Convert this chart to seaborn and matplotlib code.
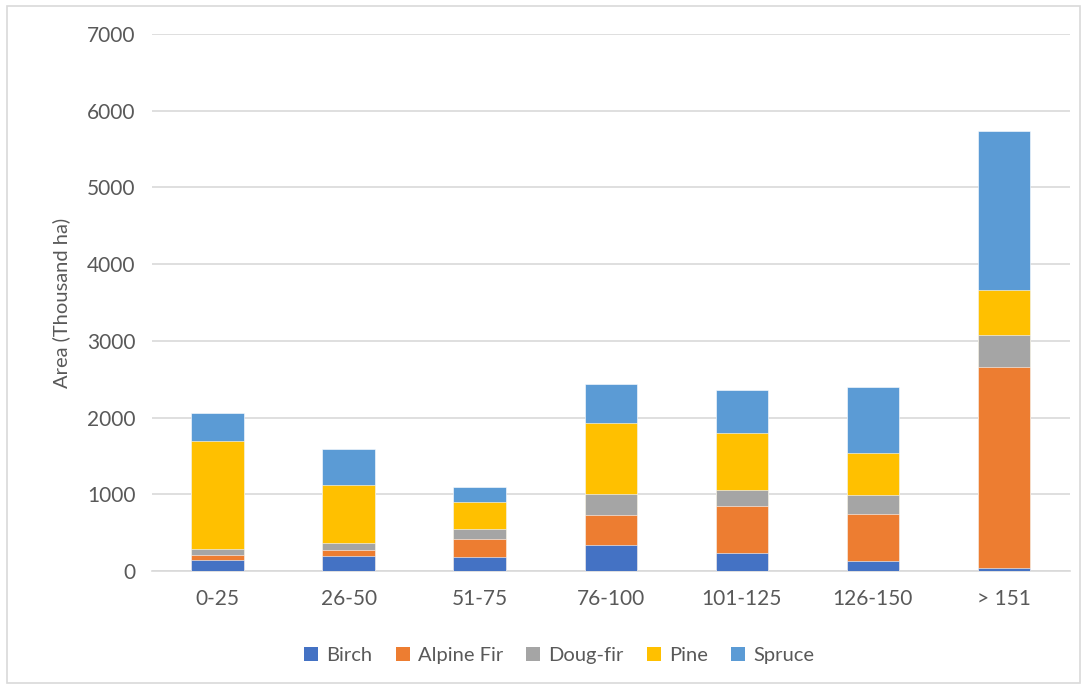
import numpy as np
import pandas as pd
import seaborn as sns
import matplotlib.pyplot as plt
from matplotlib.patches import Patch, Rectangle

# age classes and area by species (thousand ha)
age_classes = ["0-25", "26-50", "51-75", "76-100", "101-125", "126-150", "> 151"]
species = ["Birch", "Alpine Fir", "Doug-fir", "Pine", "Spruce"]
birch = [140, 190, 183, 335, 230, 130, 43]
alpine_fir = [65, 80, 234, 391, 613, 609, 2617]
doug_fir = [82, 95, 135, 274, 217, 252, 417]
pine = [1403, 756, 348, 930, 739, 547, 591]
spruce = [370, 469, 191, 504, 557, 862, 2072]
colors = ["#4472C4", "#ED7D31", "#A5A5A5", "#FFC000", "#5B9BD5"]

df = pd.DataFrame({"age": age_classes, "Birch": birch, "Alpine Fir": alpine_fir,
                   "Doug-fir": doug_fir, "Pine": pine, "Spruce": spruce})
# cumulative tops for stacking
cum = df[species].cumsum(axis=1)

sns.set_style("white")
plt.rcParams['font.family'] = ['Lato', 'DejaVu Sans']

fig = plt.figure(figsize=(10.88, 6.89), dpi=100)
ax = fig.add_axes([0.1397, 0.1713, 0.8433, 0.7794])

# draw tallest layer first so lower layers sit on top
for sp, col in reversed(list(zip(species, colors))):
    sns.barplot(x=df["age"], y=cum[sp], color=col, saturation=1, width=0.4, ax=ax,
                edgecolor="white", linewidth=0.4, zorder=3)

ax.set_ylim(0, 7000)
ax.set_yticks(range(0, 7001, 1000))
ax.set_xlim(-0.5, 6.5)
ax.yaxis.grid(True, color="#D9D9D9", linewidth=1.2, zorder=0)
ax.set_axisbelow(True)
for s in ["top", "right", "left"]:
    ax.spines[s].set_visible(False)
ax.spines["bottom"].set_color("#D9D9D9")
ax.spines["bottom"].set_linewidth(1.2)
ax.tick_params(axis="both", length=0, labelsize=15, colors="#595959", pad=12)
ax.tick_params(axis="x", pad=13)
ax.set_xlabel("")
ax.set_ylabel("Area (Thousand ha)", fontsize=14.5, color="#595959", labelpad=12)

handles = [Patch(facecolor=c, edgecolor="none") for c in colors]
fig.legend(handles, species, loc="center", bbox_to_anchor=(0.514, 0.049), ncol=5,
           frameon=False, fontsize=14.5, labelcolor="#595959", handlelength=0.7,
           handleheight=0.7, handletextpad=0.4, columnspacing=1.15)

# light chart border
fig.patches.append(Rectangle((0.006, 0.008), 0.987, 0.984, transform=fig.transFigure,
                             fill=False, edgecolor="#D9D9D9", linewidth=1.2))

fig.savefig("out.png", dpi=100)
